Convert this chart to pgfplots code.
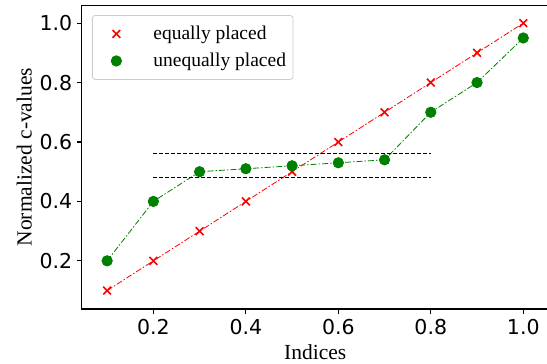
\documentclass[border=0pt]{standalone}
\usepackage{pgfplots}
\pgfplotsset{compat=1.18}
\usepackage{fontspec}
\setmainfont{Liberation Serif}
\setsansfont{DejaVu Sans}
\definecolor{mplgreen}{rgb}{0,0.5,0}
\begin{document}
\begin{tikzpicture}
\begin{axis}[
  name=ax,
  scale only axis,
  width=467pt, height=303.7pt,
  xmin=0.045, xmax=1.055,
  ymin=0.038, ymax=1.06,
  axis line style={line width=1.1pt},
  xtick={0.2,0.4,0.6,0.8,1.0},
  ytick={0.2,0.4,0.6,0.8,1.0},
  xticklabels={0.2,0.4,0.6,0.8,1.0},
  yticklabels={0.2,0.4,0.6,0.8,1.0},
  tick align=outside,
  major tick length=4.9pt,
  every tick/.style={black,line width=1.1pt},
  xtick pos=bottom, ytick pos=left,
  ticklabel style={font=\sffamily\fontsize{20.5}{24}\selectfont},
  xticklabel style={yshift=-2pt},
  yticklabel style={xshift=-1pt},
  label style={font=\fontsize{21.5}{25}\selectfont},
  xlabel={Indices},
  ylabel={Normalized c-values},
  xlabel style={at={(axis description cs:0.5,0)}, anchor=base, yshift=-50.5pt},
  ylabel style={at={(axis description cs:0,0.5)}, anchor=base, rotate=0, yshift=50pt},
  legend style={at={(axis description cs:0.022,0.968)}, anchor=north west,
    font=\fontsize{19.5}{23}\selectfont, draw=black!20, line width=0.8pt,
    rounded corners=3pt, inner xsep=5pt, inner ysep=9pt, row sep=8pt},
  legend cell align=left,
  legend image code/.code={\draw[#1, only marks] plot coordinates {(19pt,0pt)}; \path[draw=none, fill=none, opacity=0] (0pt,0pt) -- (26pt,0pt);},
]
\addplot[red, line width=0.8pt, dash pattern=on 6pt off 2pt on 1.5pt off 2pt,
  mark=x, mark size=5.5pt, mark options={solid, line width=1.6pt}]
  coordinates {(0.1,0.1) (0.2,0.2) (0.3,0.3) (0.4,0.4) (0.5,0.5) (0.6,0.6) (0.7,0.7) (0.8,0.8) (0.9,0.9) (1.0,1.0)};
\addlegendentry{\hspace{28pt}equally placed}
\addplot[mplgreen, line width=0.8pt, dash pattern=on 6pt off 2pt on 1.5pt off 2pt,
  mark=*, mark size=5.2pt, mark options={solid, fill=mplgreen, draw=mplgreen}]
  coordinates {(0.1,0.2) (0.2,0.4) (0.3,0.5) (0.4,0.51) (0.5,0.52) (0.6,0.53) (0.7,0.54) (0.8,0.7) (0.9,0.8) (1.0,0.95)};
\addlegendentry{\hspace{28pt}unequally placed}
\addplot[black, line width=0.9pt, dash pattern=on 4pt off 2pt, forget plot] coordinates {(0.2,0.56) (0.8,0.56)};
\addplot[black, line width=0.9pt, dash pattern=on 4pt off 2pt, forget plot] coordinates {(0.2,0.48) (0.8,0.48)};
\end{axis}
\pgfresetboundingbox
\path[use as bounding box] ([xshift=-81.7pt,yshift=-55pt]ax.south west) rectangle ([xshift=465.3pt,yshift=309pt]ax.south west);
\end{tikzpicture}
\end{document}
